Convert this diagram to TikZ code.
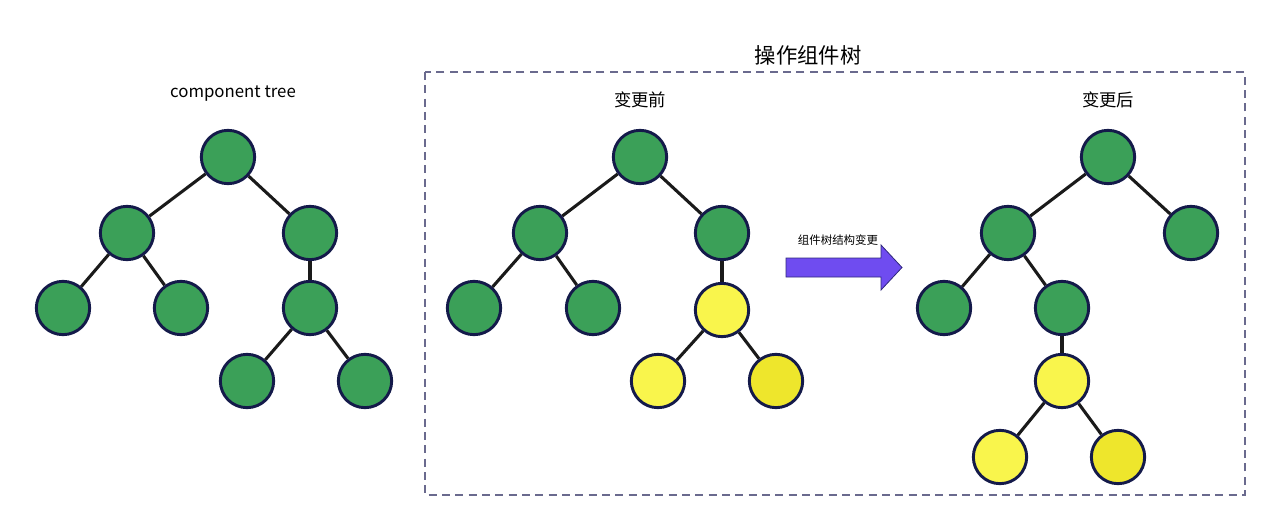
\documentclass[tikz,border=0pt]{standalone}
\usepackage{fontspec}
\setmainfont{Noto Sans CJK SC}
\begin{document}
\begin{tikzpicture}[x=0.75pt,y=-0.75pt,
  tn/.style={circle,draw=navyb,line width=2.2pt,minimum size=40pt,inner sep=0pt,fill=tgreen},
  yn/.style={tn,fill=tyellow},
  yd/.style={tn,fill=tyellowd},
  ed/.style={line width=2.3pt,draw=edgec},
  lbl/.style={font=\fontsize{13pt}{15pt}\selectfont,text=black}]
\definecolor{navyb}{HTML}{141A4A}
\definecolor{tgreen}{HTML}{3BA058}
\definecolor{tyellow}{HTML}{F9F54C}
\definecolor{tyellowd}{HTML}{EEE62C}
\definecolor{edgec}{HTML}{1A1A1A}
\definecolor{dashc}{HTML}{6A6A8E}
\definecolor{arrowc}{HTML}{6F4CF0}
\useasboundingbox (0,0) rectangle (1280,531);
% dashed frame
\draw[dashc,line width=1pt,dash pattern=on 6pt off 4pt] (425,72) rectangle (1245,495);
\node[font=\fontsize{16pt}{19pt}\selectfont] (title) at (808,55) {操作组件树};
\node[font=\fontsize{12.6pt}{15pt}\selectfont] (t1) at (233,94) {component tree};
\node[lbl] (t2) at (640,100) {变更前};
\node[lbl] (t3) at (1108,100) {变更后};
% left tree
\node[tn] (a0) at (228,157) {};
\node[tn] (a1) at (127,233) {};
\node[tn] (a2) at (310,233) {};
\node[tn] (a3) at (63,308) {};
\node[tn] (a4) at (181,308) {};
\node[tn] (a5) at (310,308) {};
\node[tn] (a6) at (247,381) {};
\node[tn] (a7) at (365,381) {};
% middle tree
\node[tn] (b0) at (640,157) {};
\node[tn] (b1) at (540,233) {};
\node[tn] (b2) at (722,233) {};
\node[tn] (b3) at (474,308) {};
\node[tn] (b4) at (593,308) {};
\node[yn] (b5) at (722,310) {};
\node[yn] (b6) at (658,381) {};
\node[yd] (b7) at (776,381) {};
% right tree
\node[tn] (c0) at (1108,157) {};
\node[tn] (c1) at (1008,233) {};
\node[tn] (c2) at (1191,233) {};
\node[tn] (c3) at (944,308) {};
\node[tn] (c4) at (1062,308) {};
\node[yn] (c5) at (1062,381) {};
\node[yn] (c6) at (1000,457) {};
\node[yd] (c7) at (1118,457) {};
\foreach \p/\q in {a0/a1,a0/a2,a1/a3,a1/a4,a2/a5,a5/a6,a5/a7,
                   b0/b1,b0/b2,b1/b3,b1/b4,b2/b5,b5/b6,b5/b7,
                   c0/c1,c0/c2,c1/c3,c1/c4,c4/c5,c5/c6,c5/c7}
  \draw[ed] (\p) -- (\q);
% arrow
\draw[navyb!70!arrowc,line width=0.6pt,fill=arrowc,line join=miter]
  (786,258) -- (881,258) -- (881,245) -- (902,267.5) -- (881,290) -- (881,277) -- (786,277) -- cycle;
\node[font=\fontsize{8.6pt}{10pt}\selectfont] (al) at (838,240) {组件树结构变更};
\end{tikzpicture}
\end{document}
